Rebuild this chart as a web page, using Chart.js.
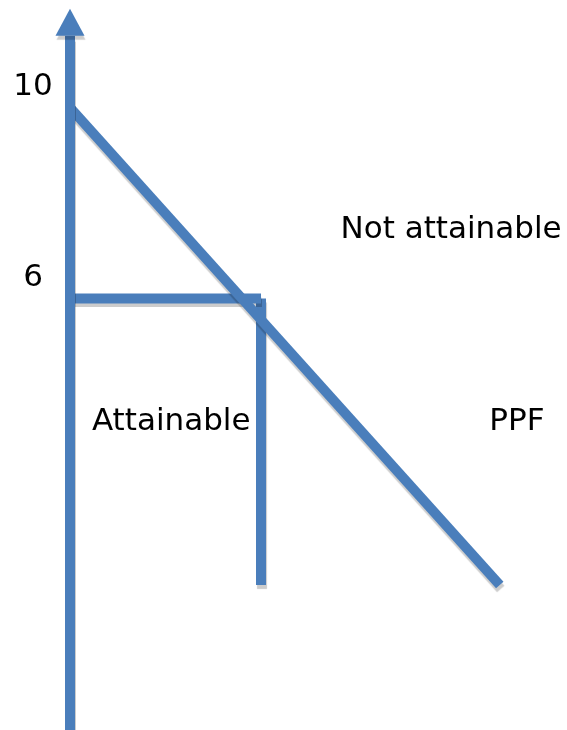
<!DOCTYPE html>
<html>
<head>
<meta charset="utf-8">
<script src="https://cdn.jsdelivr.net/npm/chart.js@4"></script>
<style>
  html, body { margin: 0; padding: 0; background: #ffffff; }
  #wrap { width: 567px; height: 730px; }
</style>
</head>
<body>
<div id="wrap"><canvas id="ppfChart" width="567" height="730"></canvas></div>
<script>
// PPF: 10 units of good Y when X is 0, 9 units of X when Y is 0
const ppfX = [0, 9]
const ppfY = [10, 0]

// chosen point (4, 6): guide lines to the axis and down to zero
const pointX = 4
const pointY = 6

// vertical axis runs from below zero up past the top of the PPF
const axisBottom = -3.2
const axisTop = 11.5

const tickValues = [10, 6]
const tickLabels = ["10", "6"]

const regionLabels = ["Not attainable", "Attainable", "PPF"]
const regionX = [7.98, 2.12, 9.36]
const regionY = [7.27, 3.25, 3.25]

const BLUE = "#4a7ebb"
const FONT = '31px "DejaVu Sans", Verdana, sans-serif'

/**
 * Sombra gris debajo de las líneas
 */
function applyShadow(ctx) {
  ctx.shadowColor = "rgba(0, 0, 0, 0.2)"
  ctx.shadowOffsetX = 1
  ctx.shadowOffsetY = 4
  ctx.shadowBlur = 1
}

const shadowPlugin = {
  id: "lineShadow",
  beforeDatasetDraw(chart) {
    chart.ctx.save()
    applyShadow(chart.ctx)
  },
  afterDatasetDraw(chart) {
    chart.ctx.restore()
  },
}

/**
 * Punta de flecha del eje y textos
 */
const labelsPlugin = {
  id: "ppfLabels",
  afterDatasetsDraw(chart) {
    const ctx = chart.ctx
    const xs = chart.scales.x
    const ys = chart.scales.y

    // arrow head on top of the axis line
    const ax = xs.getPixelForValue(0)
    const ay = ys.getPixelForValue(axisTop)
    ctx.save()
    applyShadow(ctx)
    ctx.fillStyle = BLUE
    ctx.beginPath()
    ctx.moveTo(ax - 14.5, ay)
    ctx.lineTo(ax, ay - 27)
    ctx.lineTo(ax + 14.5, ay)
    ctx.closePath()
    ctx.fill()
    ctx.restore()

    ctx.save()
    ctx.font = FONT
    ctx.fillStyle = "#000000"
    ctx.textAlign = "center"
    ctx.textBaseline = "alphabetic"

    tickLabels.forEach((label, i) => {
      ctx.fillText(label, ax - 37, ys.getPixelForValue(tickValues[i]) - 12)
    })

    regionLabels.forEach((label, i) => {
      ctx.fillText(label, xs.getPixelForValue(regionX[i]), ys.getPixelForValue(regionY[i]))
    })
    ctx.restore()
  },
}

function segment(xa, ya, xb, yb) {
  return {
    data: [{ x: xa, y: ya }, { x: xb, y: yb }],
    borderColor: BLUE,
    borderWidth: 10,
    borderCapStyle: "butt",
    pointRadius: 0,
    fill: false,
  }
}

new Chart(document.getElementById("ppfChart"), {
  type: "line",
  data: {
    datasets: [
      segment(0, axisBottom, 0, axisTop),
      segment(ppfX[0], ppfY[0], ppfX[1], ppfY[1]),
      segment(0, pointY, pointX, pointY),
      segment(pointX, pointY, pointX, 0),
    ],
  },
  options: {
    responsive: false,
    animation: false,
    layout: { padding: 0 },
    plugins: {
      legend: { display: false },
      tooltip: { enabled: false },
    },
    scales: {
      x: { type: "linear", display: false, min: -1.466, max: 10.408 },
      y: { type: "linear", display: false, min: -3.037, max: 12.251 },
    },
  },
  plugins: [shadowPlugin, labelsPlugin],
})
</script>
</body>
</html>
